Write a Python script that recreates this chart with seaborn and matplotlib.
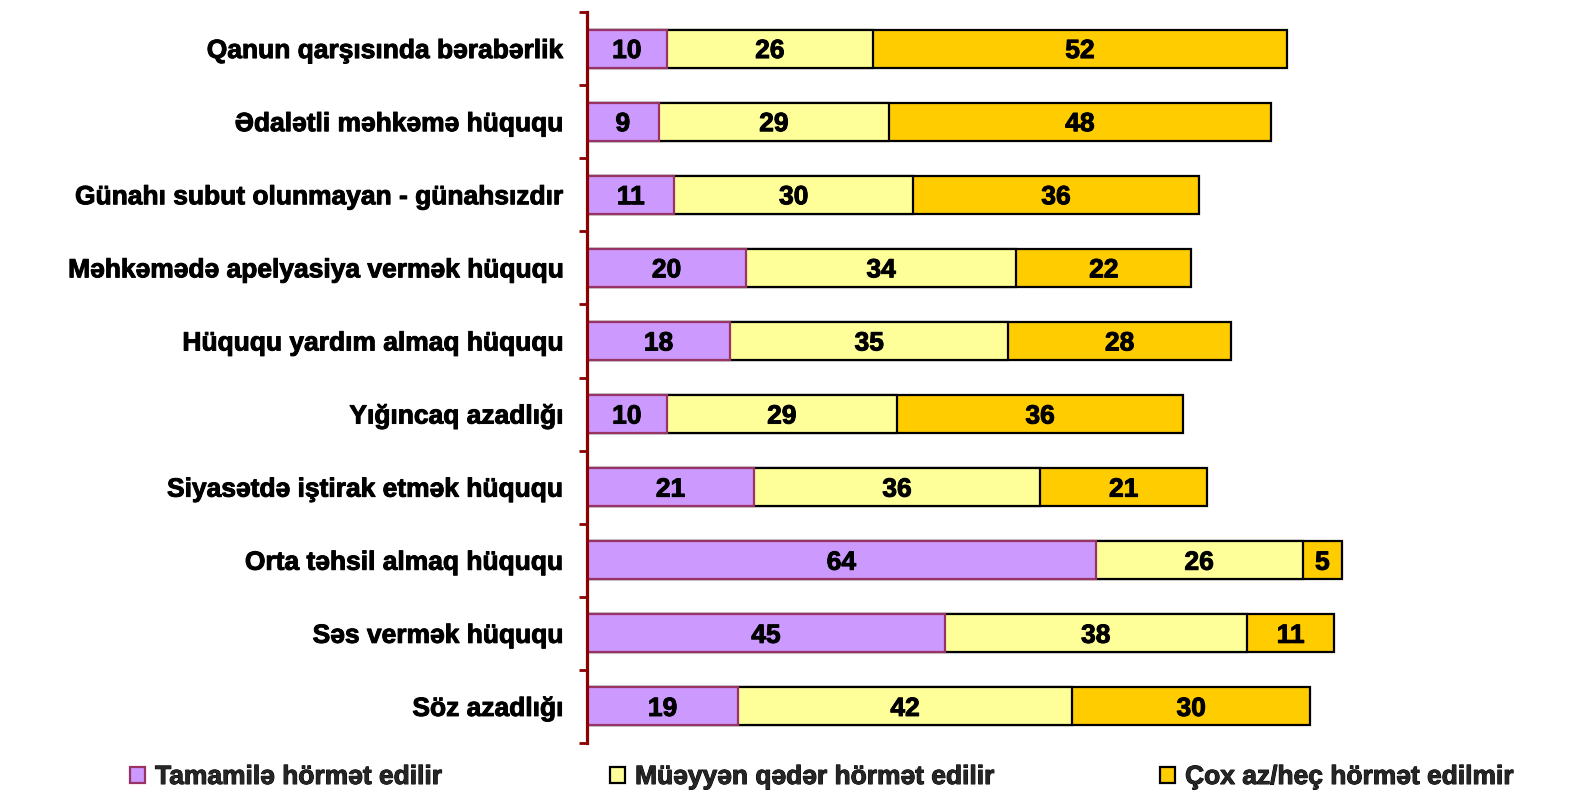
import matplotlib
matplotlib.use("Agg")
import matplotlib.pyplot as plt
import matplotlib.patheffects as pe
from matplotlib.patches import Patch
import seaborn as sns
import pandas as pd
import numpy as np

categories = [
    "Qanun qarşısında bərabərlik",
    "Ədalətli məhkəmə hüququ",
    "Günahı subut olunmayan - günahsızdır",
    "Məhkəmədə apelyasiya vermək hüququ",
    "Hüququ yardım almaq hüququ",
    "Yığıncaq azadlığı",
    "Siyasətdə iştirak etmək hüququ",
    "Orta təhsil almaq hüququ",
    "Səs vermək hüququ",
    "Söz azadlığı",
]
tam = [10, 9, 11, 20, 18, 10, 21, 64, 45, 19]
mueyyen = [26, 29, 30, 34, 35, 29, 36, 26, 38, 42]
cox_az = [52, 48, 36, 22, 28, 36, 21, 5, 11, 30]
series_names = ["Tamamilə hörmət edilir", "Müəyyən qədər hörmət edilir", "Çox az/heç hörmət edilmir"]

colors = ["#CC99FF", "#FFFF99", "#FFCC00"]
edges = ["#993366", "#000000", "#000000"]
spine_col = "#8B0000"
FS = 19
thick = [pe.withStroke(linewidth=0.7, foreground="black")]

sns.set_theme(style="white")
plt.rcParams["font.family"] = ["Liberation Sans", "DejaVu Sans"]
plt.rcParams["font.weight"] = "bold"

df = pd.DataFrame({"cat": categories, "s1": tam, "s2": mueyyen, "s3": cox_az})
df["c1"] = df["s1"]
df["c2"] = df["s1"] + df["s2"]
df["c3"] = df["c2"] + df["s3"]

fig = plt.figure(figsize=(15.73, 7.95), dpi=100)
ax = fig.add_axes([587 / 1573, 1 - 743 / 795, 795 / 1573, (743 - 12) / 795])

# draw cumulative bars back to front so they look stacked
for col, c, e in [("c3", colors[2], edges[2]), ("c2", colors[1], edges[1]), ("c1", colors[0], edges[0])]:
    sns.barplot(data=df, y="cat", x=col, orient="h", color=c, edgecolor=e,
                linewidth=1.6, width=0.52, saturation=1, ax=ax)

# segment labels
for i in range(len(categories)):
    starts = [0, df["c1"][i], df["c2"][i]]
    vals = [df["s1"][i], df["s2"][i], df["s3"][i]]
    for s, v in zip(starts, vals):
        ax.text(s + v / 2, i, str(v), ha="center", va="center_baseline",
                fontsize=FS, fontweight="bold", color="black", path_effects=thick)

ax.set_xlim(0, 100)
ax.set_ylim(len(categories) - 0.5, -0.5)
ax.set_xlabel("")
ax.set_ylabel("")
ax.set_xticks([])
for s in ["top", "right", "bottom"]:
    ax.spines[s].set_visible(False)
ax.spines["left"].set_color(spine_col)
ax.spines["left"].set_linewidth(2.3)

ax.set_yticks(np.arange(-0.5, len(categories), 1), minor=True)
ax.tick_params(axis="y", which="minor", length=6, width=2, color=spine_col, left=True)
ax.tick_params(axis="y", which="major", length=0, pad=17)
for lbl in ax.get_yticklabels():
    lbl.set_fontsize(FS)
    lbl.set_fontweight("bold")
    lbl.set_color("black")
    lbl.set_path_effects(thick)

# three legend entries placed at their own spots
for k, xpos in enumerate([130, 610, 1160]):
    leg = fig.legend([Patch(facecolor=colors[k], edgecolor=edges[k], linewidth=1.6)], [series_names[k]],
                     loc="center left", bbox_to_anchor=(xpos / 1573, 1 - 777 / 795),
                     frameon=False, borderpad=0, borderaxespad=0,
                     handlelength=0.55, handleheight=0.55, handletextpad=0.4,
                     prop={"size": FS, "weight": "bold"})
    for t in leg.get_texts():
        t.set_path_effects(thick)

fig.savefig("out.png", dpi=100)
